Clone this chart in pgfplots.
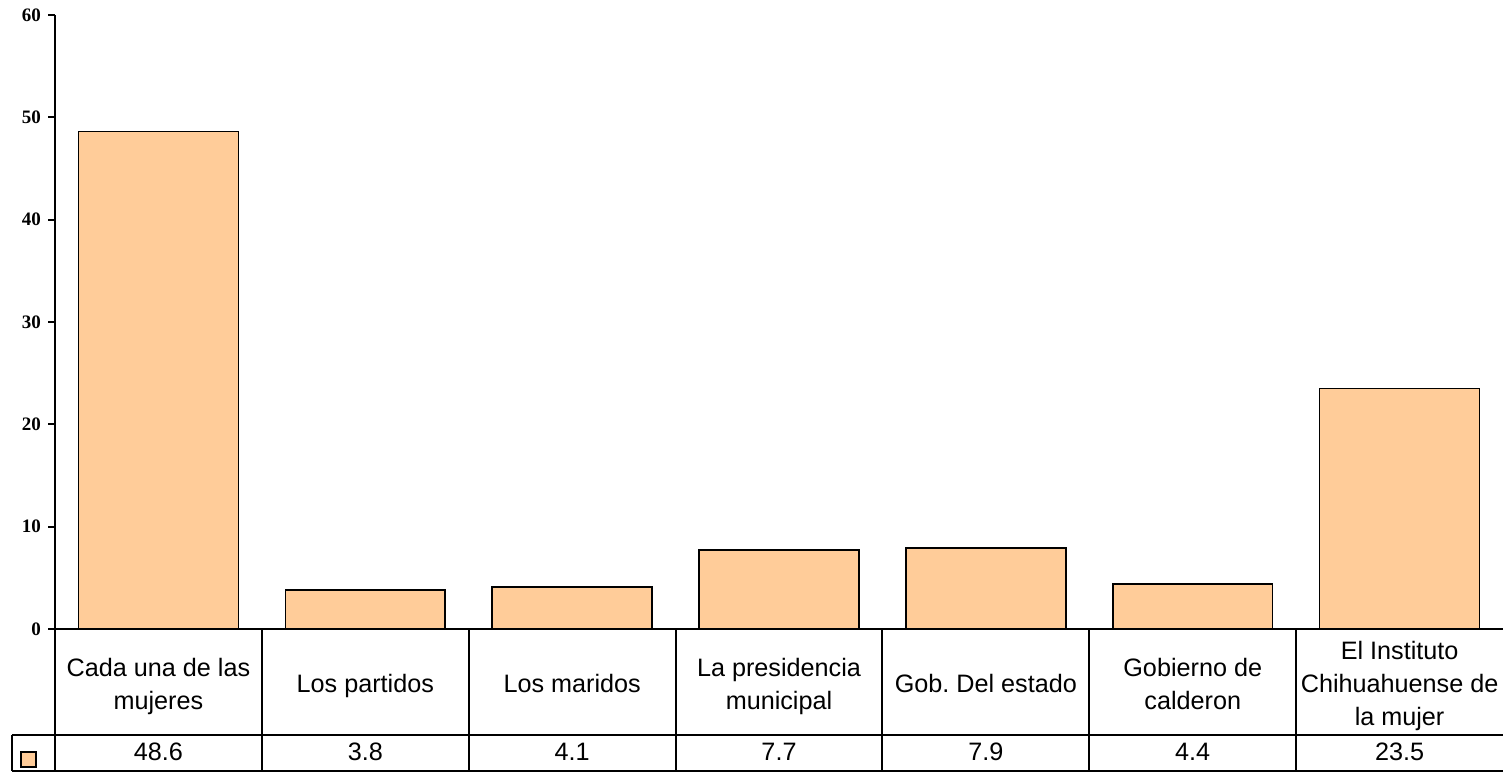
\documentclass[border=0pt]{standalone}
\usepackage{fontspec}
\setmainfont{Liberation Sans}
\newfontfamily\tnr{Liberation Serif}
\usepackage{pgfplots}
\usepackage{pgfplotstable}
\pgfplotsset{compat=1.18}
\definecolor{durazno}{HTML}{FFCC99}
\frenchspacing

\pgfplotstableread{
x y
0 48.6
1 3.8
2 4.1
3 7.7
4 7.9
5 4.4
6 23.5
}\datos

\begin{document}
\begin{tikzpicture}
\begin{axis}[
  scale only axis,
  width=724pt, height=307pt,
  xmin=-0.5, xmax=6.5,
  ymin=0, ymax=60,
  ytick={0,10,...,60},
  xtick={0,...,6},
  xticklabels={{\strut Cada una de las\\mujeres\strut},{\strut Los partidos\strut},{\strut Los maridos\strut},{\strut La presidencia\\municipal\strut},{\strut Gob. Del estado\strut},{\strut Gobierno de\\calderon\strut},{\strut El Instituto\\Chihuahuense de\\la mujer\strut}},
  xticklabel style={font=\fontsize{12.6}{16.5}\selectfont, align=center, anchor=center, yshift=-25pt},
  xtick style={draw=none},
  axis x line*=bottom,
  axis y line*=left,
  axis line style={line width=1pt},
  ytick style={line width=1pt, black},
  tick align=outside,
  major tick length=3.5pt,
  yticklabel style={font=\tnr\bfseries\fontsize{9.5}{10}\selectfont},
  /pgf/number format/assume math mode=true,
  clip=false,
  legend image code/.code={\draw[fill=durazno, line width=0.75pt] (0pt,-3.75pt) rectangle (7.5pt,3.75pt);},
  legend style={at={(axis description cs:-0.0242,-0.2125)}, anchor=west, draw=none, fill=none, inner sep=0pt, nodes={inner sep=0pt}},
]
\addplot[ybar, bar width=0.773, draw=black, line width=0.75pt, fill=durazno] table[x=x, y=y]{\datos};
\addlegendentry{}
% fila de valores de la tabla
\addplot[forget plot, draw=none, mark=none, nodes near coords, point meta=\thisrow{y},
  nodes near coords style={anchor=center, font=\fontsize{12.6}{15}\selectfont,
    /pgf/number format/fixed, /pgf/number format/precision=1, /pgf/number format/assume math mode=true}]
  table[x=x, y expr=-12.02]{\datos};
% lineas de la tabla
\draw[line width=1pt] (axis cs:-0.5,0) -- (axis cs:-0.5,-13.88);
\pgfplotsinvokeforeach{0.5,1.5,2.5,3.5,4.5,5.5}{\draw[line width=1pt] (axis cs:#1,0) -- (axis cs:#1,-13.88);}
\draw[line width=1pt] (axis cs:-0.708,-10.36) -- (axis cs:6.5,-10.36);
\draw[line width=1pt] (axis cs:-0.708,-13.88) -- (axis cs:6.5,-13.88);
\draw[line width=1pt] (axis cs:-0.708,-10.36) -- (axis cs:-0.708,-13.88);
\coordinate (bl) at (axis cs:-0.7659,-14.07);
\coordinate (tr) at (axis cs:6.5,61.47);
\end{axis}
\pgfresetboundingbox
\path (bl) rectangle (tr);
\end{tikzpicture}
\end{document}
